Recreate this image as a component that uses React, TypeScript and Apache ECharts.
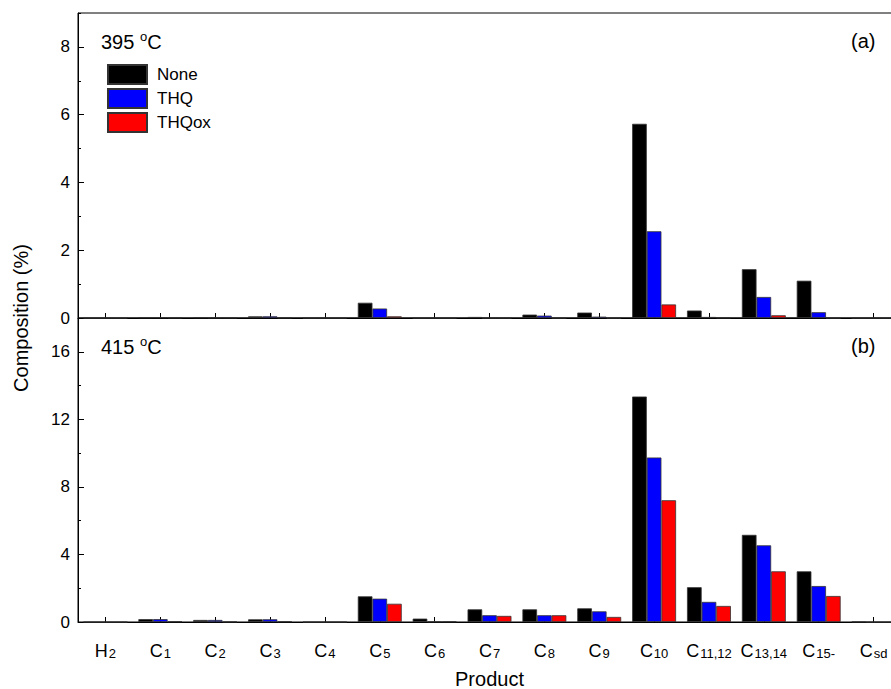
import React, { useEffect, useRef } from "react";
import * as echarts from "echarts";

// Product categories: main symbol + subscript part
const categoryBase = ["H", "C", "C", "C", "C", "C", "C", "C", "C", "C", "C", "C", "C", "C", "C"];
const categorySub = ["2", "1", "2", "3", "4", "5", "6", "7", "8", "9", "10", "11,12", "13,14", "15-", "sd"];

const seriesNames = ["None", "THQ", "THQox"];
const seriesColors = ["#000000", "#0000ff", "#ff0000"];

// Composition (%) at 395 °C
const none395 = [0, 0.02, 0.02, 0.05, 0, 0.45, 0, 0.03, 0.1, 0.16, 5.73, 0.22, 1.44, 1.1, 0];
const thq395 = [0, 0.02, 0.01, 0.05, 0, 0.28, 0, 0, 0.07, 0.04, 2.56, 0.03, 0.62, 0.17, 0];
const thqox395 = [0, 0.01, 0.01, 0.01, 0, 0.05, 0, 0, 0, 0, 0.4, 0.01, 0.08, 0, 0];

// Composition (%) at 415 °C
const none415 = [0, 0.17, 0.12, 0.16, 0, 1.52, 0.2, 0.75, 0.75, 0.81, 13.35, 2.06, 5.16, 3.0, 0.02];
const thq415 = [0, 0.17, 0.12, 0.16, 0, 1.38, 0.03, 0.4, 0.4, 0.63, 9.74, 1.19, 4.54, 2.13, 0];
const thqox415 = [0, 0.04, 0.02, 0.04, 0, 1.08, 0.03, 0.36, 0.4, 0.3, 7.21, 0.95, 3.0, 1.54, 0];

const font = "Arial, 'Liberation Sans', Helvetica, sans-serif";

// The plot frame runs a little past the right edge of the page, so the
// chart canvas is wider than the visible window and the overflow is clipped.
const VIEW_W = 891;
const VIEW_H = 689;
const CHART_W = 910;

export default function App() {
  const ref = useRef<HTMLDivElement>(null);

  useEffect(() => {
    if (!ref.current) return;
    const chart = echarts.init(ref.current, undefined, { renderer: "svg" });

    const gridLeft = 78;
    const gridWidth = 823;
    const topPanel = { top: 13, height: 305 };
    const bottomPanel = { top: 318, height: 304 };

    const catLabels = categoryBase.map((b, i) => `{b|${b}}{s|${categorySub[i]}}`);

    const xAxisCommon = (gridIndex: number, showLabels: boolean) => ({
      type: "category" as const,
      gridIndex,
      data: catLabels,
      axisLine: { lineStyle: { color: "#000", width: 1 } },
      axisTick: { show: true, inside: true, alignWithLabel: true, length: 5, lineStyle: { color: "#000" } },
      axisLabel: {
        show: showLabels,
        margin: 18,
        interval: 0,
        color: "#000",
        rich: {
          b: { fontSize: 18, fontFamily: font, color: "#000", verticalAlign: "bottom", lineHeight: 20 },
          s: { fontSize: 13, fontFamily: font, color: "#000", verticalAlign: "bottom", lineHeight: 17, padding: [0, 0, 0, 1] },
        },
      },
      splitLine: { show: false },
    });

    const yMajor = (gridIndex: number, max: number, interval: number) => ({
      type: "value" as const,
      gridIndex,
      min: 0,
      max,
      interval,
      axisLine: { show: true, lineStyle: { color: "#000", width: 1 } },
      axisTick: { show: true, inside: true, length: 6, lineStyle: { color: "#000" } },
      axisLabel: { color: "#000", fontSize: 17, fontFamily: font, margin: 8, showMaxLabel: false },
      splitLine: { show: false },
    });

    const yMinor = (gridIndex: number, max: number, interval: number) => ({
      type: "value" as const,
      gridIndex,
      min: 0,
      max,
      interval,
      position: "left" as const,
      axisLine: { show: false },
      axisTick: { show: true, inside: true, length: 3, lineStyle: { color: "#000" } },
      axisLabel: { show: false },
      splitLine: { show: false },
    });

    const bar = (name: string, data: number[], color: string, xAxisIndex: number, yAxisIndex: number) => ({
      type: "bar" as const,
      name,
      data,
      xAxisIndex,
      yAxisIndex,
      barGap: "0%",
      barCategoryGap: "20%",
      itemStyle: { color, borderColor: "#333", borderWidth: 0.8 },
    });

    const tempLabel = (t: string, x: number, y: number) => ({
      type: "text" as const,
      left: x,
      top: y,
      style: {
        text: `{n|${t} }{o|o}{n|C}`,
        rich: {
          n: { fontSize: 20, fontFamily: font, fill: "#000", verticalAlign: "bottom", lineHeight: 22 },
          o: { fontSize: 13, fontFamily: font, fill: "#000", verticalAlign: "top", lineHeight: 22 },
        },
      },
    });

    const gridBase = {
      left: gridLeft,
      width: gridWidth,
      show: true,
      borderColor: "#000",
      borderWidth: 1,
      outerBoundsMode: "none",
      containLabel: false,
    };

    chart.setOption({
      animation: false,
      backgroundColor: "#fff",
      textStyle: { fontFamily: font },
      grid: [
        { ...gridBase, top: topPanel.top, height: topPanel.height },
        { ...gridBase, top: bottomPanel.top, height: bottomPanel.height },
      ],
      legend: {
        data: seriesNames,
        orient: "vertical",
        left: 107,
        top: 64,
        padding: 0,
        itemWidth: 39,
        itemHeight: 19,
        itemGap: 3,
        icon: "rect",
        textStyle: { fontSize: 17, fontFamily: font, color: "#000", padding: [0, 0, 0, 5] },
      },
      xAxis: [
        xAxisCommon(0, false),
        {
          ...xAxisCommon(1, true),
          name: "Product",
          nameLocation: "middle",
          nameGap: 47,
          nameTextStyle: { fontSize: 20, fontFamily: font, color: "#000", lineHeight: 20 },
        },
      ],
      yAxis: [yMajor(0, 9, 2), yMinor(0, 9, 1), yMajor(1, 18, 4), yMinor(1, 18, 2)],
      series: [
        bar(seriesNames[0], none395, seriesColors[0], 0, 0),
        bar(seriesNames[1], thq395, seriesColors[1], 0, 0),
        bar(seriesNames[2], thqox395, seriesColors[2], 0, 0),
        bar(seriesNames[0], none415, seriesColors[0], 1, 2),
        bar(seriesNames[1], thq415, seriesColors[1], 1, 2),
        bar(seriesNames[2], thqox415, seriesColors[2], 1, 2),
      ],
      graphic: [
        tempLabel("395", 101, 30),
        tempLabel("415", 101, 335),
        {
          type: "text",
          left: 851,
          top: 31,
          style: { text: "(a)", fontSize: 20, fontFamily: font, fill: "#000" },
        },
        {
          type: "text",
          left: 851,
          top: 336,
          style: { text: "(b)", fontSize: 20, fontFamily: font, fill: "#000" },
        },
        {
          type: "text",
          x: 21,
          y: 318,
          rotation: Math.PI / 2,
          style: {
            text: "Composition (%)",
            fontSize: 20,
            fontFamily: font,
            fill: "#000",
            align: "center",
            verticalAlign: "middle",
          },
        },
      ],
    });

    return () => chart.dispose();
  }, []);

  return (
    <div style={{ position: "absolute", left: 0, top: 0, width: VIEW_W, height: VIEW_H, overflow: "hidden", background: "#fff" }}>
      <div ref={ref} style={{ width: CHART_W, height: VIEW_H }} />
    </div>
  );
}
